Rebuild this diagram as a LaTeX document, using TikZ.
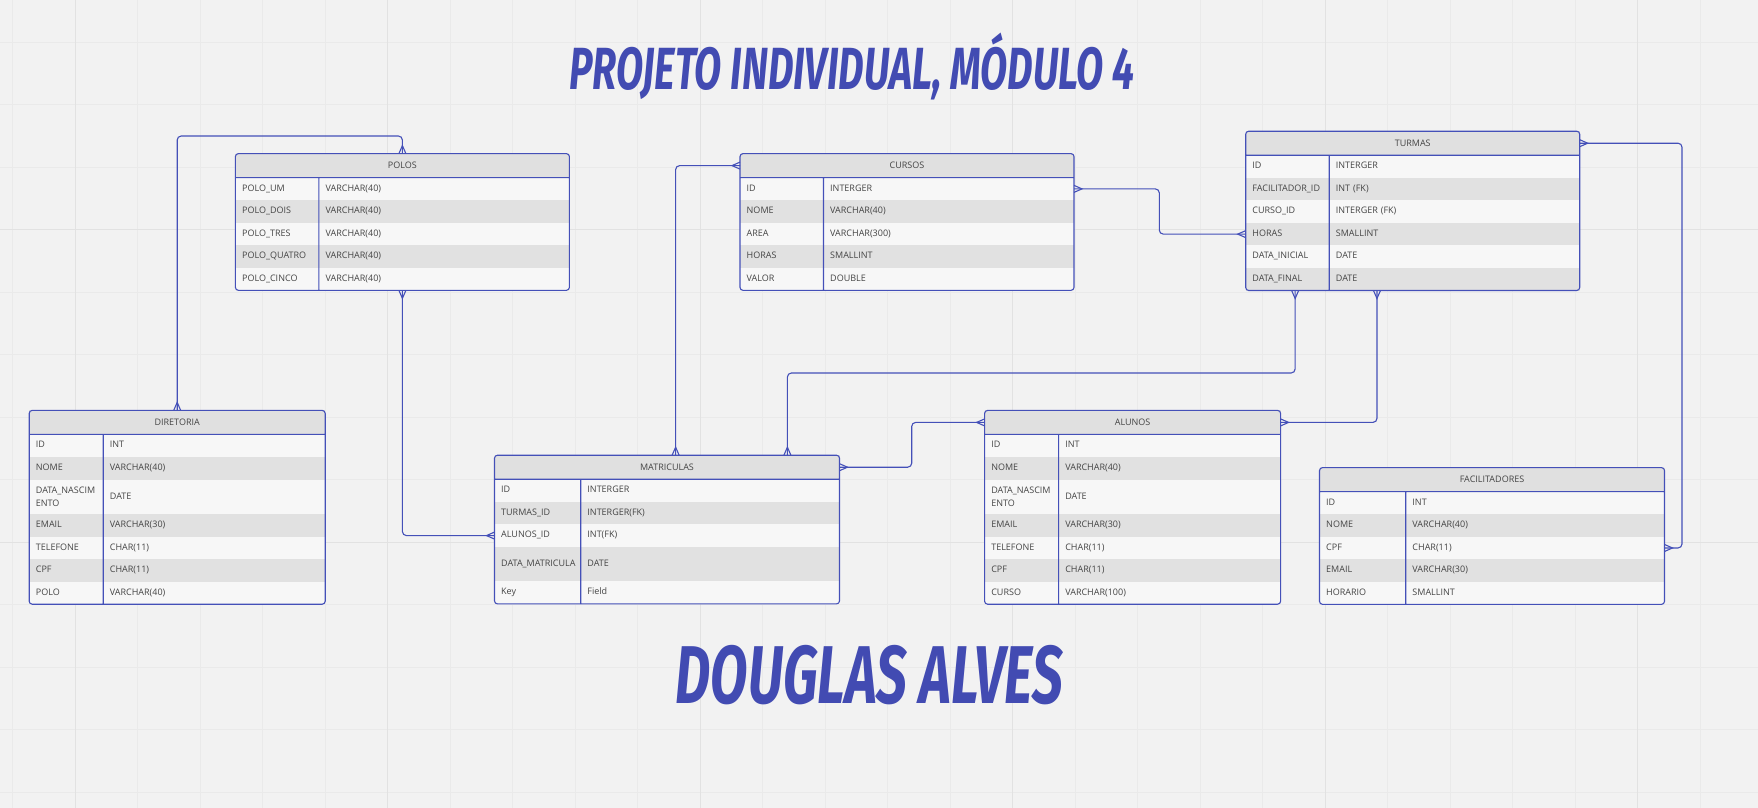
\documentclass[tikz,border=0pt]{standalone}
\usepackage{fontspec}
\setmainfont{Open Sans}
\newfontfamily\titlefont{Fira Sans}[FakeStretch=0.665]
\usepackage{tikz}
\usetikzlibrary{positioning,calc,decorations.markings}

\definecolor{erblue}{HTML}{4450B8}
\definecolor{titleblue}{HTML}{424BB2}
\definecolor{headgray}{HTML}{E0E0E0}
\definecolor{rowlight}{HTML}{F7F7F7}
\definecolor{rowdark}{HTML}{E1E1E1}
\definecolor{canvas}{HTML}{F2F2F2}
\definecolor{gridminor}{HTML}{EAEAEA}
\definecolor{gridmajor}{HTML}{E2E2E2}
\definecolor{fieldtext}{HTML}{444444}

\begin{document}
\begin{tikzpicture}[x=1pt, y=-1pt,
        head/.style={fill=headgray, inner sep=0, outer sep=0, minimum height=24, text=fieldtext, font=\fontsize{9}{12.3}\selectfont},
        fieldrow/.style={inner xsep=6.7pt, inner ysep=0, outer sep=0, minimum height=22.55*#1, align=left, text height=6.5pt, text depth=2pt, text=fieldtext, font=\fontsize{9}{12.3}\selectfont},
        zebra/.code={\ifodd#1\relax\pgfkeysalso{fill=rowlight}\else\pgfkeysalso{fill=rowdark}\fi},
        tbl/.style={draw=erblue, line width=1.1, rounded corners=3},
        rel/.style={draw=erblue, line width=1.1, rounded corners=4, postaction=decorate,
            decoration={markings,
                mark=at position 0 with {\draw[erblue, line width=1.1, sharp corners] (0,3.5) -- (8,0) -- (0,-3.5);},
                mark=at position 1 with {\draw[erblue, line width=1.1, sharp corners] (0,3.5) -- (-8,0) -- (0,-3.5);}}},
        title/.style={text=titleblue, anchor=base, font=\titlefont\bfseries\itshape\fontsize{#1}{#1}\selectfont}]

    % canvas and grid
    \useasboundingbox (0,0) rectangle (1758,808);
    \fill[canvas] (0,0) rectangle (1758,808);
    \foreach \gx in {12.7,75.2,...,1758} \draw[gridminor, line width=1] (\gx,0) -- (\gx,808);
    \foreach \gy in {42.3,104.8,...,808} \draw[gridminor, line width=1] (0,\gy) -- (1758,\gy);
    \foreach \gx in {75.2,387.7,...,1758} \draw[gridmajor, line width=1] (\gx,0) -- (\gx,808);
    \foreach \gy in {229.8,542.3} \draw[gridmajor, line width=1] (0,\gy) -- (1758,\gy);

    \node[title=59.5] (heading) at (852,89.5) {PROJETO INDIVIDUAL, MÓDULO 4};
    \node[title=82] (author) at (869.5,703) {DOUGLAS ALVES};

    % POLOS
    \node[head, minimum width=334, anchor=north west, alias=polos0] (polos) at (235.4,153.6) {POLOS};
    \foreach \k/\t/\h [count=\i, remember=\i as \j (initially 0)] in {POLO\_UM/VARCHAR(40)/1, POLO\_DOIS/VARCHAR(40)/1,
            POLO\_TRES/VARCHAR(40)/1, POLO\_QUATRO/VARCHAR(40)/1, POLO\_CINCO/VARCHAR(40)/1}
        \node[fieldrow=\h, zebra=\i, text width=320.6pt, below=0pt of polos\j] (polos\i) {\makebox[83.5pt][l]{\k}\t};
    \draw[tbl] (polos.north west) rectangle (polos5.south east) (polos.south west) -- (polos.south east)
        ($(polos1.north west)!.25!(polos1.north east)$) -- ($(polos5.south west)!.25!(polos5.south east)$);

    % CURSOS
    \node[head, minimum width=334, anchor=north west, alias=cursos0] (cursos) at (740,153.6) {CURSOS};
    \foreach \k/\t/\h [count=\i, remember=\i as \j (initially 0)] in {ID/INTERGER/1, NOME/VARCHAR(40)/1,
            AREA/VARCHAR(300)/1, HORAS/SMALLINT/1, VALOR/DOUBLE/1}
        \node[fieldrow=\h, zebra=\i, text width=320.6pt, below=0pt of cursos\j] (cursos\i) {\makebox[83.5pt][l]{\k}\t};
    \draw[tbl] (cursos.north west) rectangle (cursos5.south east) (cursos.south west) -- (cursos.south east)
        ($(cursos1.north west)!.25!(cursos1.north east)$) -- ($(cursos5.south west)!.25!(cursos5.south east)$);

    % TURMAS
    \node[head, minimum width=334, anchor=north west, alias=turmas0] (turmas) at (1245.7,131.2) {TURMAS};
    \foreach \k/\t/\h [count=\i, remember=\i as \j (initially 0)] in {ID/INTERGER/1, FACILITADOR\_ID/INT (FK)/1,
            CURSO\_ID/INTERGER (FK)/1, HORAS/SMALLINT/1, DATA\_INICIAL/DATE/1, DATA\_FINAL/DATE/1}
        \node[fieldrow=\h, zebra=\i, text width=320.6pt, below=0pt of turmas\j] (turmas\i) {\makebox[83.5pt][l]{\k}\t};
    \draw[tbl] (turmas.north west) rectangle (turmas6.south east) (turmas.south west) -- (turmas.south east)
        ($(turmas1.north west)!.25!(turmas1.north east)$) -- ($(turmas6.south west)!.25!(turmas6.south east)$);

    % DIRETORIA
    \node[head, minimum width=296, anchor=north west, alias=diretoria0] (diretoria) at (29.2,410.4) {DIRETORIA};
    \foreach \k/\t/\h [count=\i, remember=\i as \j (initially 0)] in {ID/INT/1, NOME/VARCHAR(40)/1,
            {\parbox[c]{66pt}{DATA\_NASCIM\\ENTO}}/DATE/1.53, EMAIL/VARCHAR(30)/1, TELEFONE/CHAR(11)/1,
            CPF/CHAR(11)/1, POLO/VARCHAR(40)/1}
        \node[fieldrow=\h, zebra=\i, text width=282.6pt, below=0pt of diretoria\j] (diretoria\i) {\makebox[74pt][l]{\k}\t};
    \draw[tbl] (diretoria.north west) rectangle (diretoria7.south east) (diretoria.south west) -- (diretoria.south east)
        ($(diretoria1.north west)!.25!(diretoria1.north east)$) -- ($(diretoria7.south west)!.25!(diretoria7.south east)$);

    % MATRICULAS
    \node[head, minimum width=345, anchor=north west, alias=matriculas0] (matriculas) at (494.5,455.2) {MATRICULAS};
    \foreach \k/\t/\h [count=\i, remember=\i as \j (initially 0)] in {ID/INTERGER/1, TURMAS\_ID/INTERGER(FK)/1,
            ALUNOS\_ID/INT(FK)/1, DATA\_MATRICULA/DATE/1.53, Key/Field/1}
        \node[fieldrow=\h, zebra=\i, text width=331.6pt, below=0pt of matriculas\j] (matriculas\i) {\makebox[86.25pt][l]{\k}\t};
    \draw[tbl] (matriculas.north west) rectangle (matriculas5.south east) (matriculas.south west) -- (matriculas.south east)
        ($(matriculas1.north west)!.25!(matriculas1.north east)$) -- ($(matriculas5.south west)!.25!(matriculas5.south east)$);

    % ALUNOS
    \node[head, minimum width=296, anchor=north west, alias=alunos0] (alunos) at (984.6,410.4) {ALUNOS};
    \foreach \k/\t/\h [count=\i, remember=\i as \j (initially 0)] in {ID/INT/1, NOME/VARCHAR(40)/1,
            {\parbox[c]{66pt}{DATA\_NASCIM\\ENTO}}/DATE/1.53, EMAIL/VARCHAR(30)/1, TELEFONE/CHAR(11)/1,
            CPF/CHAR(11)/1, CURSO/VARCHAR(100)/1}
        \node[fieldrow=\h, zebra=\i, text width=282.6pt, below=0pt of alunos\j] (alunos\i) {\makebox[74pt][l]{\k}\t};
    \draw[tbl] (alunos.north west) rectangle (alunos7.south east) (alunos.south west) -- (alunos.south east)
        ($(alunos1.north west)!.25!(alunos1.north east)$) -- ($(alunos7.south west)!.25!(alunos7.south east)$);

    % FACILITADORES
    \node[head, minimum width=345, anchor=north west, alias=facilitadores0] (facilitadores) at (1319.5,467.6) {FACILITADORES};
    \foreach \k/\t/\h [count=\i, remember=\i as \j (initially 0)] in {ID/INT/1, NOME/VARCHAR(40)/1,
            CPF/CHAR(11)/1, EMAIL/VARCHAR(30)/1, HORARIO/SMALLINT/1}
        \node[fieldrow=\h, zebra=\i, text width=331.6pt, below=0pt of facilitadores\j] (facilitadores\i) {\makebox[86.25pt][l]{\k}\t};
    \draw[tbl] (facilitadores.north west) rectangle (facilitadores5.south east) (facilitadores.south west) -- (facilitadores.south east)
        ($(facilitadores1.north west)!.25!(facilitadores1.north east)$) -- ($(facilitadores5.south west)!.25!(facilitadores5.south east)$);

    % relationships
    \coordinate (lane) at (0,373);
    \coordinate (jogA) at (911.7,0);
    \coordinate (jogB) at (1159.3,0);
    \coordinate (jogC) at (1682,0);
    \coordinate (matriculasL) at ($(matriculas.north west)!.525!(matriculas.north east)$);
    \coordinate (matriculasR) at ($(matriculas.north west)!.849!(matriculas.north east)$);
    \coordinate (turmasL) at ($(turmas6.south west)!.148!(turmas6.south east)$);
    \coordinate (turmasR) at ($(turmas6.south west)!.393!(turmas6.south east)$);

    \draw[rel] (diretoria.north) |- ([yshift=17.6pt]polos.north) -- (polos.north);
    \draw[rel] (polos5.south) |- (matriculas3.west);
    \draw[rel] (cursos.west) -| (matriculasL);
    \draw[rel] (turmasL) -- (turmasL |- lane) -| (matriculasR);
    \draw[rel] (alunos.east) -| (turmasR);
    \draw[rel] (matriculas.east) -- (matriculas.east -| jogA) |- (alunos.west);
    \draw[rel] (cursos1.east) -- (cursos1.east -| jogB) |- (turmas4.west);
    \draw[rel] (turmas.east) -- (turmas.east -| jogC) |- (facilitadores3.east);

\end{tikzpicture}
\end{document}
